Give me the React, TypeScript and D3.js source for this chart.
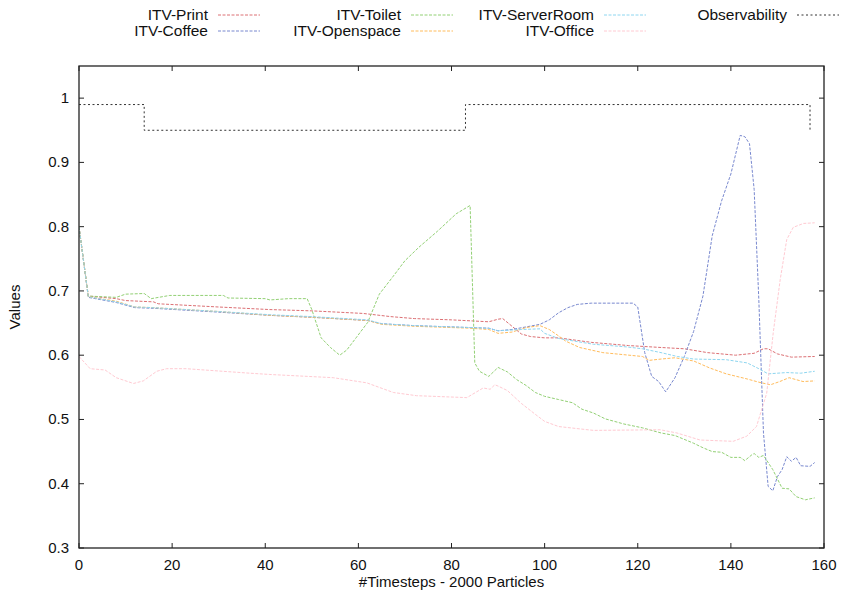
import React from "react";
import * as d3 from "d3";

type Pt = [number, number];

const xTicks = [0, 20, 40, 60, 80, 100, 120, 140, 160];
const yTicks = [0.3, 0.4, 0.5, 0.6, 0.7, 0.8, 0.9, 1];
const yTickLabels = ["0.3", "0.4", "0.5", "0.6", "0.7", "0.8", "0.9", "1"];

const printData: Pt[] = [
  [0, 0.8], [2, 0.692], [8, 0.688], [10, 0.685], [16, 0.683], [17, 0.68], [30, 0.675], [41, 0.671],
  [50, 0.669], [61, 0.665], [67, 0.66], [72, 0.657], [80, 0.655], [88, 0.652], [90, 0.656], [91, 0.657],
  [93, 0.645], [95, 0.633], [97, 0.629], [100, 0.627], [103, 0.627], [110, 0.62], [118, 0.615], [125, 0.612],
  [130, 0.61], [135, 0.604], [141, 0.6], [145, 0.603], [147, 0.61], [148, 0.61], [150, 0.602], [153, 0.597],
  [158, 0.598],
];

const coffeeData: Pt[] = [
  [0, 0.8], [2, 0.69], [8, 0.682], [12, 0.674], [16, 0.673], [30, 0.667], [41, 0.662], [50, 0.659],
  [62, 0.654], [65, 0.649], [72, 0.646], [84, 0.643], [88, 0.642], [90, 0.638], [93, 0.64], [96, 0.644],
  [99, 0.648], [101, 0.655], [103, 0.666], [105, 0.674], [107, 0.679], [110, 0.681], [119, 0.681],
  [120, 0.675], [121.5, 0.604], [123, 0.567], [124.5, 0.559], [126, 0.543], [128, 0.565], [130, 0.598],
  [132, 0.637], [134, 0.692], [136, 0.786], [138, 0.84], [140, 0.882], [142, 0.942], [143, 0.94],
  [144, 0.929], [145, 0.858], [146, 0.687], [147, 0.479], [148, 0.396], [149, 0.389], [150, 0.411],
  [151, 0.422], [152, 0.442], [153, 0.435], [154, 0.441], [155, 0.428], [157, 0.427], [158, 0.433],
];

const toiletData: Pt[] = [
  [0, 0.8], [2, 0.692], [8, 0.69], [10, 0.695], [14, 0.696], [15.5, 0.688], [19.5, 0.693], [31, 0.693],
  [32, 0.689], [40, 0.688], [41, 0.686], [45, 0.688], [49, 0.688], [50, 0.671], [52, 0.627], [54, 0.612],
  [56, 0.6], [57.5, 0.608], [59.5, 0.627], [62, 0.651], [64.5, 0.695], [67.5, 0.723], [70, 0.747],
  [73, 0.768], [77, 0.793], [81, 0.82], [84, 0.833], [85, 0.588], [86, 0.575], [88, 0.567], [90, 0.581],
  [92, 0.574], [94, 0.562], [96, 0.553], [98, 0.542], [100, 0.536], [103, 0.531], [106, 0.526],
  [108, 0.516], [110.5, 0.51], [113, 0.501], [117, 0.493], [121, 0.487], [125, 0.479], [128, 0.475],
  [132, 0.463], [134, 0.456], [136, 0.45], [138, 0.449], [140, 0.441], [142, 0.441], [143, 0.436],
  [144.5, 0.445], [145, 0.447], [146, 0.441], [147, 0.444], [149, 0.422], [151, 0.393], [152.5, 0.392],
  [154, 0.38], [156, 0.375], [158, 0.378],
];

const openspaceData: Pt[] = [
  [0, 0.8], [2, 0.691], [8, 0.684], [12, 0.675], [16, 0.674], [30, 0.668], [41, 0.662], [50, 0.659],
  [62, 0.654], [65, 0.648], [72, 0.645], [84, 0.642], [88, 0.64], [90, 0.634], [93, 0.636], [96, 0.643],
  [99, 0.646], [101, 0.64], [103, 0.63], [104.5, 0.622], [107.5, 0.612], [112.5, 0.604], [121, 0.598],
  [122.5, 0.592], [125, 0.594], [128, 0.596], [132, 0.591], [135.5, 0.58], [139, 0.571], [143.5, 0.563],
  [146, 0.558], [148.5, 0.554], [150.5, 0.559], [152.5, 0.565], [155.5, 0.559], [158, 0.56],
];

const serverRoomData: Pt[] = [
  [0, 0.8], [2, 0.691], [8, 0.683], [12, 0.675], [16, 0.674], [30, 0.668], [41, 0.663], [50, 0.66],
  [62, 0.655], [65, 0.649], [72, 0.646], [84, 0.643], [88, 0.642], [90, 0.638], [95, 0.64], [99, 0.641],
  [100, 0.634], [103, 0.626], [110.5, 0.617], [117.5, 0.613], [121, 0.61], [125, 0.604], [128.5, 0.598],
  [132, 0.594], [139, 0.593], [143.5, 0.588], [146, 0.579], [148, 0.571], [152, 0.573], [155, 0.572],
  [158, 0.575],
];

const officeData: Pt[] = [
  [0, 0.598], [2.4, 0.579], [5.6, 0.577], [8, 0.565], [11.7, 0.556], [13.8, 0.56], [16.7, 0.575],
  [18.8, 0.579], [23, 0.579], [36.7, 0.572], [41, 0.57], [54.6, 0.565], [61.8, 0.557], [67.5, 0.542],
  [72.5, 0.537], [83.3, 0.534], [86.8, 0.549], [88.3, 0.547], [89.3, 0.554], [90, 0.552], [92, 0.545],
  [95, 0.525], [98, 0.508], [100, 0.497], [103, 0.489], [110.5, 0.483], [124.8, 0.484], [128.4, 0.479],
  [133.4, 0.468], [140.5, 0.466], [143.4, 0.474], [145.5, 0.489], [147.7, 0.541], [149.1, 0.635],
  [150.6, 0.718], [152, 0.78], [153.4, 0.799], [155.6, 0.805], [158, 0.806],
];

const observabilityData: Pt[] = [
  [0, 0.99], [14, 0.99], [14, 0.95], [83, 0.95], [83, 0.99], [157, 0.99], [157, 0.95],
];

const seriesNames = ["ITV-Print", "ITV-Coffee", "ITV-Toilet", "ITV-Openspace", "ITV-ServerRoom", "ITV-Office", "Observability"];
const seriesData = [printData, coffeeData, toiletData, openspaceData, serverRoomData, officeData, observabilityData];
const seriesColors = ["#dc7074", "#7888cf", "#92d074", "#ffbc5c", "#8ed6f0", "#ffcad2", "#333333"];
// legend grid: [column, row]
const legendPos: [number, number][] = [[0, 0], [0, 1], [1, 0], [1, 1], [2, 0], [2, 1], [3, 0]];

const W = 841;
const H = 598;
const M = { left: 79, right: 824, top: 66, bottom: 548 };
const FONT = "'Liberation Sans', Arial, sans-serif";
const FS = 15;

export default function App() {
  const x = d3.scaleLinear().domain([0, 160]).range([M.left, M.right]);
  const y = d3.scaleLinear().domain([0.3, 1.05]).range([M.bottom, M.top]);
  const line = d3
    .line<Pt>()
    .x((d) => x(d[0]))
    .y((d) => y(d[1]));

  const legendTextRight = [208, 401, 594, 787];
  const rowY = [15, 31];

  return (
    <svg width={W} height={H} style={{ position: "absolute", left: 0, top: 0, background: "#fff" }} fontFamily={FONT}>
      <rect x={0} y={0} width={W} height={H} fill="#fff" />
      <defs>
        <clipPath id="plotclip">
          <rect x={M.left} y={M.top} width={M.right - M.left} height={M.bottom - M.top} />
        </clipPath>
      </defs>
      {/* ticks */}
      {xTicks.map((t) => (
        <g key={"xt" + t}>
          <line x1={x(t)} x2={x(t)} y1={M.bottom} y2={M.bottom - 5} stroke="#222" />
          <line x1={x(t)} x2={x(t)} y1={M.top} y2={M.top + 5} stroke="#222" />
          <text x={x(t)} y={570} fontSize={FS} textAnchor="middle" fill="#111">
            {t}
          </text>
        </g>
      ))}
      {yTicks.map((t, i) => (
        <g key={"yt" + t}>
          <line x1={M.left} x2={M.left + 5} y1={y(t)} y2={y(t)} stroke="#222" />
          <line x1={M.right} x2={M.right - 5} y1={y(t)} y2={y(t)} stroke="#222" />
          <text x={69} y={y(t) + 5} fontSize={FS} textAnchor="end" fill="#111">
            {yTickLabels[i]}
          </text>
        </g>
      ))}
      <text x={(M.left + M.right) / 2} y={587} fontSize={FS} textAnchor="middle" fill="#111">
        #Timesteps - 2000 Particles
      </text>
      <text transform={`translate(20,${(M.top + M.bottom) / 2}) rotate(-90)`} fontSize={FS} textAnchor="middle" fill="#111">
        Values
      </text>
      {/* series */}
      <g clipPath="url(#plotclip)">
        {seriesData.map((d, i) => (
          <path
            key={seriesNames[i]}
            d={line(d) || ""}
            fill="none"
            stroke={seriesColors[i]}
            strokeWidth={1}
            strokeDasharray={i === 6 ? "2,2.5" : "3,1.5"}
          />
        ))}
      </g>
      {/* frame */}
      <rect x={M.left} y={M.top} width={M.right - M.left} height={M.bottom - M.top} fill="none" stroke="#222" strokeWidth={1.3} />
      {/* legend */}
      {seriesNames.map((n, i) => {
        const [c, r] = legendPos[i];
        const tx = legendTextRight[c];
        const ly = rowY[r];
        return (
          <g key={"lg" + n}>
            <text x={tx} y={ly + 5} fontSize={15.5} textAnchor="end" fill="#111">
              {n}
            </text>
            <line x1={tx + 10} x2={tx + 52} y1={ly} y2={ly} stroke={seriesColors[i]} strokeWidth={1} strokeDasharray={i === 6 ? "2,2.5" : "3,1.5"} />
          </g>
        );
      })}
    </svg>
  );
}
